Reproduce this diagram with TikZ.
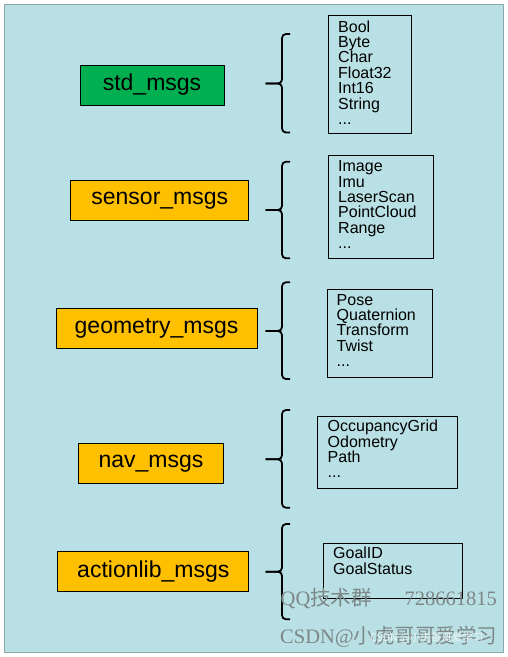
\documentclass[tikz,border=0pt]{standalone}
\usepackage{fontspec}
\setmainfont{Liberation Sans}
\newfontfamily\cjkfont{Noto Sans CJK SC}
\newfontfamily\wmserif{Liberation Serif}
\usepackage{tikz}
\definecolor{sfondo}{RGB}{185,224,228}
\definecolor{bordo}{RGB}{140,168,170}
\definecolor{pkggreen}{HTML}{00B050}
\definecolor{pkgorange}{HTML}{FFC000}
\definecolor{filigrana}{RGB}{125,135,135}

\begin{document}
\begin{tikzpicture}[x=1pt,y=-1pt,
    pkg/.style={draw, line width=0.8pt, minimum height=40pt, inner sep=0pt, font=\fontsize{23}{23}\selectfont},
    msglist/.style={draw, line width=0.8pt, anchor=north west, inner sep=0pt},
    msgtext/.style={anchor=north west, inner sep=0pt, align=left, font=\fontsize{16}{15.4}\selectfont},
    bracepath/.style={line width=1.8pt, rounded corners=4pt},
    wm/.style={anchor=base west, inner sep=0pt, text=filigrana, font=\fontsize{20.5}{20.5}\selectfont}]
        % Sfondo
        \useasboundingbox (0,0) rectangle (508,657);
        \fill[sfondo, draw=bordo, line width=1pt] (4,4) rectangle (503,652);
        % Pacchetti
        \node[pkg, fill=pkggreen, minimum width=144pt] (std) at (152,85) {std\_msgs};
        \node[pkg, fill=pkgorange, minimum width=178pt] (sensor) at (159.8,200.5) {sensor\_msgs};
        \node[pkg, fill=pkgorange, minimum width=201pt] (geometry) at (156.5,328.5) {geometry\_msgs};
        \node[pkg, fill=pkgorange, minimum width=145pt] (nav) at (151,463.3) {nav\_msgs};
        \node[pkg, fill=pkgorange, minimum width=191pt] (actionlib) at (153.3,571.5) {actionlib\_msgs};
        % Parentesi graffe
        \foreach \ya/\ym/\yb in {34/83.5/132.5, 161.7/210/258.3, 282.3/331/379, 410/459.3/507.7, 524/571.7/619.3}{
            \draw[bracepath] (290,\ya) -- (282,\ya) -- (282,\ym) -- (265.5,\ym);
            \draw[bracepath] (265.5,\ym) -- (282,\ym) -- (282,\yb) -- (290,\yb);
        }
        % Elenchi dei messaggi
        \node[msglist, minimum width=82.4pt, minimum height=118.3pt] (stdlist) at (328.3,15) {};
        \node[msgtext] (stdtext) at (338,20.3) {Bool\\Byte\\Char\\Float32\\Int16\\String\\...};
        \node[msglist, minimum width=104.4pt, minimum height=103.3pt] (sensorlist) at (328.3,155) {};
        \node[msgtext] (sensortext) at (338,160.5) {Image\\Imu\\LaserScan\\PointCloud\\Range\\...};
        \node[msglist, minimum width=104.4pt, minimum height=87.4pt] (geometrylist) at (327.3,289.3) {};
        \node[msgtext] (geometrytext) at (336.5,293.8) {Pose\\Quaternion\\Transform\\Twist\\...};
        \node[msglist, minimum width=139.4pt, minimum height=72pt] (navlist) at (317.3,415.7) {};
        \node[msgtext] (navtext) at (327.5,419.8) {OccupancyGrid\\Odometry\\Path\\...};
        \node[msglist, minimum width=138.4pt, minimum height=55.6pt] (actionliblist) at (323.3,542.7) {};
        \node[msgtext] (actionlibtext) at (333,546.8) {GoalID\\GoalStatus};
        % Filigrana
        \node[wm] (qq) at (280.5,605) {\wmserif QQ\cjkfont 技术群\hspace{1.6em}\wmserif 728661815};
        \node[wm] (csdn) at (280,643) {\wmserif CSDN@\cjkfont 小虎哥哥爱学习};
        \node[wm, text=white!70!sfondo, font=\fontsize{10.5}{10.5}\selectfont] (csdnsmall) at (370,641) {\cjkfont CSDN @小虎哥哥爱学习};
    \end{tikzpicture}
\end{document}
